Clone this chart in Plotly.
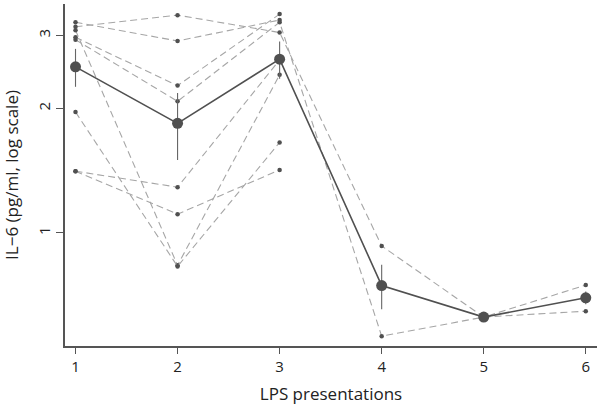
import plotly.graph_objects as go

# LPS presentation number
presentations = [1, 2, 3, 4, 5, 6]

# individual animals (None = not measured)
s1 = [3.23, 2.91, 3.27, None, None, None]
s2 = [3.15, 3.36, 3.05, 0.93, 0.626, 0.748]
s3 = [3.09, 0.835, 2.41, None, None, None]
s4 = [2.97, 2.27, 3.38, None, None, None]
s5 = [2.93, 2.08, 3.23, 0.563, 0.626, 0.647]
s6 = [1.96, 0.83, 1.655, None, None, None]
s7 = [1.41, 1.29, 2.62, None, None, None]
s8 = [1.41, 1.11, 1.42, None, None, None]
subjects = [s1, s2, s3, s4, s5, s6, s7, s8]

# group mean and standard error
mean_il6 = [2.52, 1.84, 2.63, 0.746, 0.626, 0.697]
se_il6 = [0.265, 0.34, 0.27, 0.092, 0.0, 0.025]

fig = go.Figure()

for s in subjects:
    xs = [x for x, v in zip(presentations, s) if v is not None]
    ys = [v for v in s if v is not None]
    fig.add_trace(go.Scatter(
        x=xs, y=ys, mode="lines+markers",
        line=dict(color="#a6a6a6", width=1.1, dash="7px,4px"),
        marker=dict(color="#505050", size=4.5),
        showlegend=False, hoverinfo="skip"))

fig.add_trace(go.Scatter(
    x=presentations, y=mean_il6, mode="lines+markers",
    line=dict(color="#505050", width=1.6),
    marker=dict(color="#505050", size=11),
    error_y=dict(type="data", array=se_il6, color="#666666", thickness=1.1, width=0),
    showlegend=False))

font = "Open Sans, DejaVu Sans, sans-serif"

fig.update_xaxes(
    range=[0.897, 6.11], tickvals=presentations, ticks="outside", ticklen=6,
    tickwidth=1.2, tickcolor="#555555", showline=True, linecolor="#555555",
    linewidth=1.5, showgrid=False, zeroline=False, automargin=False,
    tickfont=dict(family=font, size=15, color="#222222"),
    title=dict(text="LPS presentations", font=dict(family=font, size=17, color="#222222"),
               standoff=13))
fig.update_yaxes(
    type="log", range=[-0.2733, 0.5533], tickvals=[1, 2, 3], ticktext=["1", "2", "3"],
    tickangle=-90, ticks="outside", ticklen=7, tickwidth=1.2, tickcolor="#555555",
    showline=True, linecolor="#555555", linewidth=1.5, showgrid=False, zeroline=False,
    automargin=False,
    tickfont=dict(family=font, size=15, color="#222222"),
    title=dict(text="IL\u22126 (pg/ml, log scale)", font=dict(family=font, size=17, color="#222222"),
               standoff=12))

fig.update_layout(
    width=600, height=405,
    margin=dict(l=65, r=3, t=4, b=59),
    plot_bgcolor="white", paper_bgcolor="white")

fig.write_html("out.html", config={"displayModeBar": False},
               post_script="document.body.style.margin='0';")
